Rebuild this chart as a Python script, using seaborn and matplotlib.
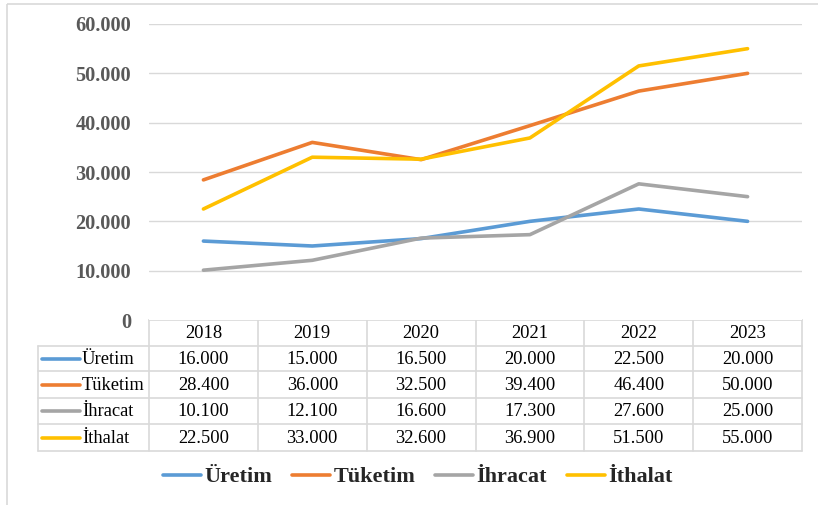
import numpy as np
import pandas as pd
import matplotlib
matplotlib.use("Agg")
import matplotlib.pyplot as plt
from matplotlib.ticker import FuncFormatter
from matplotlib.lines import Line2D
from matplotlib.patches import Rectangle
import seaborn as sns

# ---- data ----
years = [2018, 2019, 2020, 2021, 2022, 2023]
series_names = ["Üretim", "Tüketim", "İhracat", "İthalat"]
uretim = [16000, 15000, 16500, 20000, 22500, 20000]
tuketim = [28400, 36000, 32500, 39400, 46400, 50000]
ihracat = [10100, 12100, 16600, 17300, 27600, 25000]
ithalat = [22500, 33000, 32600, 36900, 51500, 55000]
y_ticks = [0, 10000, 20000, 30000, 40000, 50000, 60000]
colors = ["#5B9BD5", "#ED7D31", "#A5A5A5", "#FFC000"]

values = [uretim, tuketim, ihracat, ithalat]

def fmt(v):
    return f"{int(v):,}".replace(",", ".")

df = pd.DataFrame({
    "Yıl": np.tile(years, len(series_names)),
    "Değer": np.concatenate(values),
    "Seri": np.repeat(series_names, len(years)),
})

sns.set_theme(style="white")
plt.rcParams["font.family"] = ["Liberation Serif", "DejaVu Serif"]

W, H = 818, 505
fig = plt.figure(figsize=(W / 100, H / 100), dpi=100)

# plot area in pixel coords
L, R, T, B = 149, 802, 24, 320
ax = fig.add_axes([L / W, 1 - B / H, (R - L) / W, (B - T) / H])

sns.lineplot(data=df, x="Yıl", y="Değer", hue="Seri", hue_order=series_names,
             palette=colors, linewidth=2.6, ax=ax, legend=False,
             solid_capstyle="round")

ax.set_xlim(years[0] - 0.5, years[-1] + 0.5)
ax.set_ylim(0, 60000)
ax.set_yticks(y_ticks)
ax.yaxis.set_major_formatter(FuncFormatter(lambda v, p: fmt(v)))
ax.set_xticks([])
ax.set_xlabel("")
ax.set_ylabel("")
for s in ax.spines.values():
    s.set_visible(False)
ax.tick_params(axis="y", length=0, pad=13, labelsize=14.6, labelcolor="#595959")
for lbl in ax.get_yticklabels():
    lbl.set_fontweight("bold")
for t in y_ticks[1:]:
    ax.axhline(t, color="#D9D9D9", linewidth=1.0, zorder=0)

# ---- overlay for data table ----
ov = fig.add_axes([0, 0, 1, 1], zorder=-1)
ov.set_xlim(0, W)
ov.set_ylim(H, 0)
ov.axis("off")

# outer chart border
ov.add_patch(Rectangle((7, 4), W, H, fill=False, edgecolor="#D9D9D9", linewidth=1.2))

grid_c = "#D9D9D9"
tab_left = 38
ncol = len(years)
colw = (R - L) / ncol
col_edges = [L + i * colw for i in range(ncol + 1)]
row_edges = [320, 346, 371, 398, 424, 451]

# horizontal lines
ov.plot([L, R], [row_edges[0], row_edges[0]], color=grid_c, lw=1.2)
for y in row_edges[1:]:
    ov.plot([tab_left, R], [y, y], color=grid_c, lw=1.2)
# vertical lines
ov.plot([tab_left, tab_left], [row_edges[1], row_edges[-1]], color=grid_c, lw=1.2)
for x in col_edges:
    ov.plot([x, x], [row_edges[0], row_edges[-1]], color=grid_c, lw=1.2)

tfs = 13.3
for i, yr in enumerate(years):
    cx = (col_edges[i] + col_edges[i + 1]) / 2
    ov.text(cx, (row_edges[0] + row_edges[1]) / 2 + 1, str(yr), ha="center", va="center",
            fontsize=tfs, color="#000000")
for r, (name, vals, c) in enumerate(zip(series_names, values, colors)):
    cy = (row_edges[r + 1] + row_edges[r + 2]) / 2
    ov.plot([42, 80], [cy, cy], color=c, lw=2.6, solid_capstyle="round")
    ov.text(82, cy + 1, name, ha="left", va="center", fontsize=tfs, color="#000000")
    for i, v in enumerate(vals):
        cx = (col_edges[i] + col_edges[i + 1]) / 2
        ov.text(cx, cy + 1, fmt(v), ha="center", va="center", fontsize=tfs, color="#000000")

# ---- legend ----
handles = [Line2D([], [], color=c, lw=2.6, solid_capstyle="round") for c in colors]
fig.legend(handles, series_names, loc="center", bbox_to_anchor=(418 / W, 1 - 477 / H),
           ncol=4, frameon=False, handlelength=1.7, handletextpad=0.15,
           columnspacing=0.9, prop={"family": "Liberation Serif", "weight": "bold", "size": 16})

fig.savefig("out.png", dpi=100)
